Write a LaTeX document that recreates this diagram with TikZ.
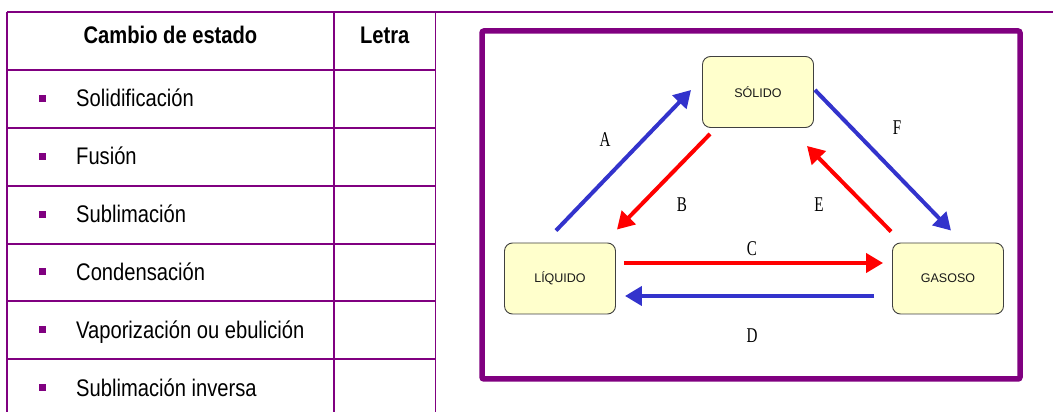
\documentclass[tikz,border=0pt]{standalone}
\usepackage{xcolor}
\usepackage{fontspec}
\setmainfont[FakeStretch=0.84]{Liberation Sans}
\newfontfamily\boxfont{Liberation Sans}
\newfontfamily\letterfont[FakeStretch=0.72]{Liberation Serif}
\usetikzlibrary{positioning, calc, arrows.meta}
\definecolor{tabpurple}{HTML}{800080}
\definecolor{arrblue}{HTML}{3333CC}
\definecolor{arrred}{HTML}{FF0000}
\definecolor{boxyellow}{HTML}{FFFFCC}
\definecolor{boxedge}{HTML}{404040}

\begin{document}
\begin{tikzpicture}[x=1pt, y=1pt,
	grid/.style={draw=tabpurple, line width=1.6pt},
	head/.style={anchor=base, inner sep=0, font=\bfseries\fontsize{24}{28}\selectfont},
	cell/.style={anchor=base west, inner sep=0, font=\fontsize{24}{28}\selectfont},
	bullet/.style={fill=tabpurple, inner sep=0, minimum size=7pt},
	statebox/.style={draw=boxedge, fill=boxyellow, rounded corners=8pt, line width=0.9pt,
		minimum width=111pt, minimum height=71pt, inner sep=0, text=black!90,
		font=\boxfont\fontsize{12.5}{14}\selectfont},
	letterlab/.style={inner sep=0, font=\letterfont\fontsize{21}{24}\selectfont},
	bluearr/.style={draw=arrblue, line width=4pt, -{Triangle[length=17pt, width=19pt]}},
	redarr/.style={draw=arrred, line width=4pt, -{Triangle[length=17pt, width=19pt]}}]
	
	\useasboundingbox (0,0) rectangle (1054,412);
	
	\draw[grid] (7,400) -- (1053,400);
	\foreach \x in {7, 334, 435.5}
	\draw[grid] (\x,400) -- (\x,0);
	
	\foreach \y in {342, 284, 226, 168, 111, 53}
	\draw[grid] (7,\y) -- (435.5,\y);
	
	\node[head] (cambio) at (170.5,368.7) {Cambio de estado};
	\node[head] (letra) at (384.7,368.7) {Letra};
	
	\foreach \t [count=\i] in {Solidificación, Fusión, Sublimación, Condensación, Vaporización ou ebulición, Sublimación inversa} {
		\pgfmathsetmacro\yb{305-57.8*(\i-1)}
		\node[bullet] (b\i) at (42,\yb+8.5) {};
		\node[cell] (t\i) at (76,\yb) {\t};
	}
	
	\draw[tabpurple, line width=5.5pt, rounded corners=2pt] (482,381) rectangle (1020,33);
	
	\node[statebox] (sol) at (758,320) {SÓLIDO};
	\node[statebox] (liq) at (560,133.5) {LÍQUIDO};
	\node[statebox] (gas) at (948,133.5) {GASOSO};
	
	\draw[bluearr] ([shift={(-4,12)}]liq.north) -- ([shift={(-11,2)}]sol.west);
	\draw[redarr] ([shift={(8,-6)}]sol.south west) -- ([shift={(1,13)}]liq.north east);
	\draw[bluearr] ([shift={(1,2)}]sol.east) -- ([shift={(3,12)}]gas.north);
	\draw[redarr] ([shift={(-1,11)}]gas.north west) -- ([shift={(-7,-18)}]sol.south east);
	\draw[redarr] ([shift={(8,15.5)}]liq.east) -- ([shift={(-9,15.5)}]gas.west);
	\draw[bluearr] ([shift={(-18,-17.5)}]gas.west) -- ([shift={(9,-17.5)}]liq.east);
	
	\node[letterlab] (la) at (605,272) {A};
	\node[letterlab] (lb) at (682,207) {B};
	\node[letterlab] (lc) at (752,163) {C};
	\node[letterlab] (ld) at (752,76) {D};
	\node[letterlab] (le) at (819,207) {E};
	\node[letterlab] (lf) at (897,284) {F};
	
\end{tikzpicture}
\end{document}
